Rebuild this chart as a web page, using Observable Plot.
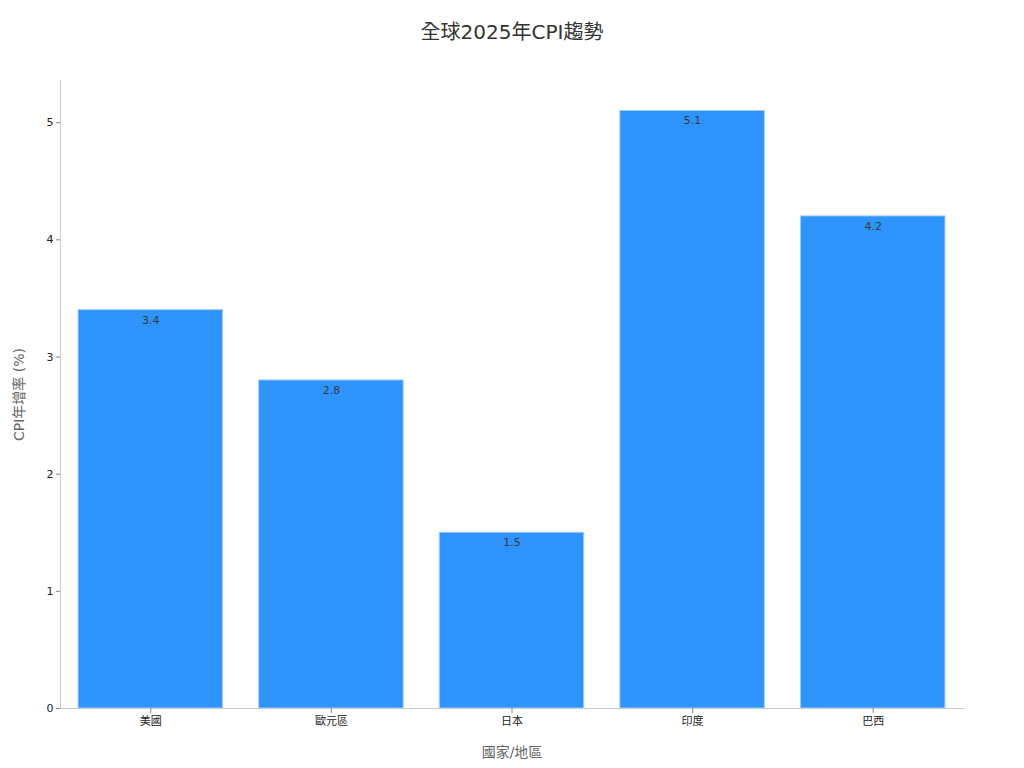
<!DOCTYPE html>
<html>
<head>
<meta charset="utf-8">
<script src="https://cdn.jsdelivr.net/npm/d3@7"></script>
<script src="https://cdn.jsdelivr.net/npm/@observablehq/plot@0.6"></script>
<style>
  html, body { margin: 0; padding: 0; background: #fff; }
  body { width: 1024px; height: 768px; overflow: hidden; font-family: "DejaVu Sans", "Noto Sans CJK TC", sans-serif; }
  #title { height: 60px; line-height: 64px; text-align: center; font-size: 20px; color: #333; font-family: "DejaVu Sans", "Noto Sans CJK TC", sans-serif; }
</style>
</head>
<body>
<div id="title">全球2025年CPI趨勢</div>
<div id="chart"></div>
<script>
const regions = ["美國", "歐元區", "日本", "印度", "巴西"];
const cpiValues = [3.4, 2.8, 1.5, 5.1, 4.2];
const yTicks = [0, 1, 2, 3, 4, 5];

const data = regions.map((r, i) => ({region: r, cpi: cpiValues[i]}));
const font = "'DejaVu Sans', 'Noto Sans CJK TC', sans-serif";

const chart = Plot.plot({
  width: 1024,
  height: 708,
  marginTop: 20,
  marginBottom: 60,
  marginLeft: 60,
  marginRight: 61,
  style: {fontFamily: font, fontSize: "11px", color: "#222", background: "#fff"},
  x: {domain: regions, paddingInner: 0.2, paddingOuter: 0.1, round: false, label: null},
  y: {domain: [0, 5.36], ticks: yTicks, label: null},
  marks: [
    Plot.barY(data, {x: "region", y: "cpi", fill: "#2E93FA", stroke: "#9fcdfc", strokeWidth: 1}),
    Plot.text(data, {x: "region", y: "cpi", text: d => d.cpi.toFixed(1), dy: 10, fill: "#3a3a3a", fontSize: 11}),
    Plot.frame({anchor: "left", stroke: "#ccc"}),
    Plot.frame({anchor: "bottom", stroke: "#ccc"}),
    Plot.axisY({ticks: yTicks, tickFormat: "d", tickSize: 4, tickPadding: 3, stroke: "#888", fill: "#222", fontSize: 11, label: "CPI年增率 (%)", labelAnchor: "center", labelArrow: "none", labelOffset: 46}),
    Plot.axisX({tickSize: 5, tickPadding: 4, stroke: "#888", fill: "#222", fontSize: 11, label: "國家/地區", labelAnchor: "center", labelArrow: "none", labelOffset: 48})
  ]
});
document.getElementById("chart").appendChild(chart);
chart.querySelectorAll("g[aria-label='y-axis label'] text, g[aria-label='x-axis label'] text").forEach(t => {
  t.setAttribute("fill", "#666");
  t.style.fontSize = "14px";
});
</script>
</body>
</html>
